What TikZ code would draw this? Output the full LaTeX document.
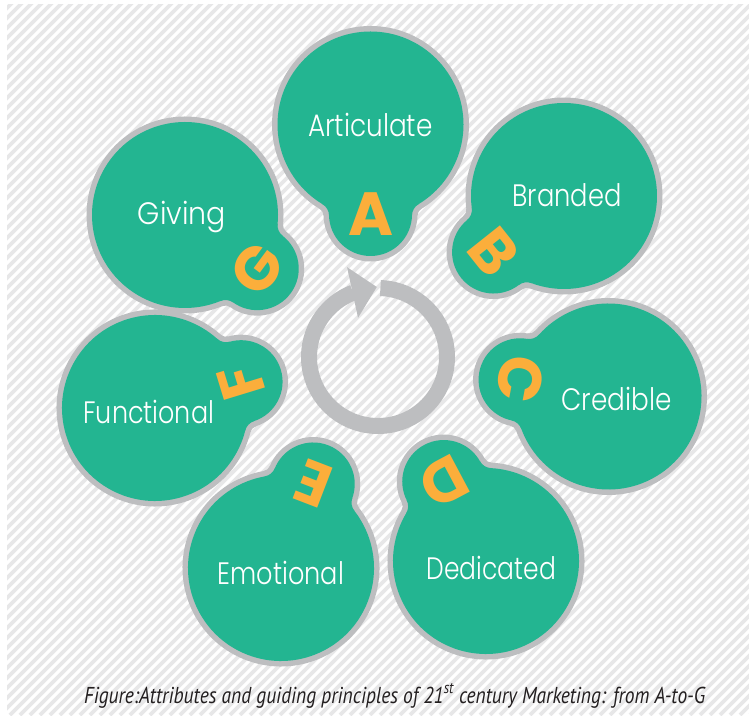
\documentclass[tikz,border=0pt]{standalone}
\usepackage{fontspec}
\usepackage{graphicx}
\setmainfont{Poppins}
\newfontfamily\lblfont{Poppins Light}
\newfontfamily\capfont{PT Sans}
\definecolor{bgreen}{RGB}{35,181,145}
\definecolor{bgray}{RGB}{189,190,192}
\definecolor{borange}{RGB}{251,174,59}
\definecolor{stripecol}{RGB}{231,231,232}
\definecolor{captext}{RGB}{35,31,32}
\newcommand\fitw[2]{\resizebox{#1pt}{\height}{#2}}
% #1 x, #2 image y, #3 direction to small circle, #4 letter, #5 name
\newcommand\drawbubble[5]{%
  \begin{scope}[shift={(#1,715-#2)}, rotate=#3]
    \fill[bgray] (0,0) circle[radius=98.5] (90,0) circle[radius=47];
    \foreach \s in {1,-1}{\fill[bgray, yscale=\s] (0,0) -- (84.36,50.85) arc[start angle=211.08, end angle=268.74, radius=8] -- (90,0) -- cycle;}
    \fill[bgreen] (0,0) circle[radius=93] (90,0) circle[radius=41.5];
    \foreach \s in {1,-1}{\fill[bgreen, yscale=\s] (0,0) -- (79.65,48.01) arc[start angle=211.08, end angle=268.74, radius=13.5] -- (90,0) -- cycle;}
    \node[letterbox, rotate=#3+90] (#5) at (90,0) {#4};
  \end{scope}}
\begin{document}
\begin{tikzpicture}[x=1pt, y=1pt,
  letterbox/.style={inner sep=0pt, text=borange, font=\fontsize{61}{61}\selectfont\bfseries},
  lbl/.style={inner sep=0pt, anchor=base, text=white, font=\lblfont\fontsize{31}{31}\selectfont},
  ringline/.style={draw=bgray, line width=16}]
\useasboundingbox (0,0) rectangle (749,715);
\fill[white] (0,0) rectangle (749,715);
\begin{scope}
  \clip (7,0) rectangle (749,710);
  \foreach \i in {-73,...,76} \draw[stripecol, line width=3.6] (\i*10,0) -- ++(716,716);
\end{scope}
% bubbles
\drawbubble{370.5}{124.5}{-90}{A}{lA}
\drawbubble{564}{196}{-141.5}{B}{lB}
\drawbubble{608.5}{396.5}{169.3}{C}{lC}
\drawbubble{486}{561}{118}{D}{lD}
\drawbubble{281}{568}{69}{E}{lE}
\drawbubble{155}{408}{17}{F}{lF}
\drawbubble{185}{215}{-36.6}{G}{lG}
% labels
\node[lbl] (tA) at (370.5,715-136.7) {\fitw{124.4}{Articulate}};
\node[lbl] (tB) at (567,715-207) {\fitw{109}{Branded}};
\node[lbl] (tC) at (616.7,715-410.7) {\fitw{110}{Credible}};
\node[lbl] (tD) at (491.3,715-579.3) {\fitw{129.3}{Dedicated}};
\node[lbl] (tE) at (280.8,715-584.3) {\fitw{126.3}{Emotional}};
\node[lbl] (tF) at (148.7,715-423.3) {\fitw{130.7}{Functional}};
\node[lbl] (tG) at (182,715-225) {\fitw{88}{Giving}};
% cycle arrow
\coordinate (rc) at (378,358);
\draw[ringline] (rc) ++(88:69) arc[start angle=88, end angle=-249, radius=69];
\fill[bgray, shift={(rc)}] (109:95) -- (117:44) -- (91:70) -- cycle;
% caption
\node[anchor=base west, inner sep=0pt, text=captext] (cap) at (84,715-703)
  {\resizebox{621pt}{\height}{\capfont\itshape\fontsize{23}{23}\selectfont Figure:Attributes and guiding principles of 21\textsuperscript{st} century Marketing: from A-to-G}};
\end{tikzpicture}
\end{document}
